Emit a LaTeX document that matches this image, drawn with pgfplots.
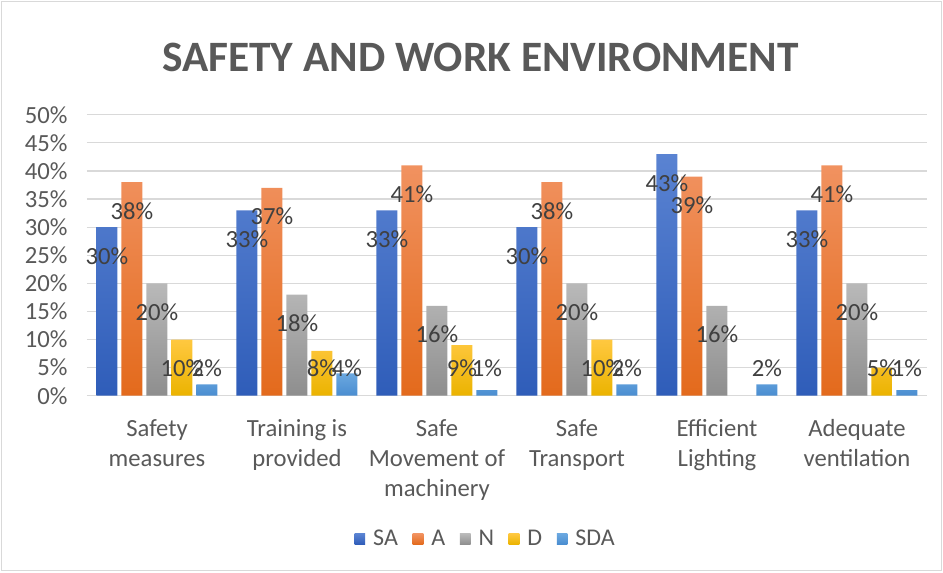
\documentclass[border=0pt]{standalone}
\usepackage{pgfplots}
\pgfplotsset{compat=1.18}
\usepackage{fontspec}
\setmainfont{Carlito}
\definecolor{txt}{HTML}{595959}
\definecolor{lbl}{HTML}{404040}
\definecolor{gridc}{HTML}{D9D9D9}
\definecolor{saT}{HTML}{5A83D2}\definecolor{saB}{HTML}{2F5DB9}
\definecolor{aT}{HTML}{F19260}\definecolor{aB}{HTML}{E36A1C}
\definecolor{nT}{HTML}{B9B9B9}\definecolor{nB}{HTML}{8E8E8E}
\definecolor{dT}{HTML}{FFC840}\definecolor{dB}{HTML}{EBB300}
\definecolor{sdaT}{HTML}{6BA8E0}\definecolor{sdaB}{HTML}{4A8DD0}
\begin{document}
\begin{tikzpicture}[x=1pt,y=1pt]
\useasboundingbox (0,0) rectangle (707.25,429);
\draw[gridc, line width=0.75pt] (1,1) rectangle (706.25,428);
\node[font=\fontsize{32.5}{38}\selectfont\bfseries, text=txt] at (360.4,386.2) {SAFETY AND WORK ENVIRONMENT};
\begin{axis}[
  at={(65.25pt,132.2pt)}, anchor=south west,
  scale only axis, width=630pt, height=210.75pt,
  ybar=3pt, bar width=15.75pt,
  xmin=-0.5, xmax=5.5, ymin=0, ymax=50,
  xtick={0,...,5},
  xticklabels={Safety\\measures, Training is\\provided, Safe\\Movement of\\machinery, Safe\\Transport, Efficient\\Lighting, Adequate\\ventilation},
  ytick={0,5,...,50},
  yticklabel={\pgfmathprintnumber{\tick}\%},
  /pgf/number format/assume math mode=true,
  ticklabel style={font=\fontsize{18.5}{22.5}\selectfont, text=txt},
  xticklabel style={align=center, yshift=-14pt},
  yticklabel style={xshift=-11pt},
  major tick length=0pt,
  ymajorgrids, grid style={gridc, line width=0.9pt},
  axis x line*=bottom, axis y line*=left,
  x axis line style={gridc, line width=0.9pt, -},
  y axis line style={draw=none},
  legend columns=5,
  legend style={draw=none, at={(0.475,-0.51)}, anchor=center, font=\fontsize{18}{20}\selectfont, text=txt, column sep=4pt, /tikz/every even column/.append style={column sep=9pt}},
  legend image code/.code={\path[#1, draw=none] (0pt,-4pt) rectangle (8pt,4pt);},
  visualization depends on={rawy \as \rawy},
  nodes near coords={\pgfmathprintnumber{\pgfplotspointmeta}\%},
  nodes near coords style={anchor=center, font=\fontsize{18.5}{20}\selectfont, text=lbl, yshift={(max(\rawy-5.1,4.9)-\rawy)*4.215pt}},
]
\addplot[draw=none, top color=saT, bottom color=saB] coordinates {(0,30) (1,33) (2,33) (3,30) (4,43) (5,33)};
\addplot[draw=none, top color=aT, bottom color=aB] coordinates {(0,38) (1,37) (2,41) (3,38) (4,39) (5,41)};
\addplot[draw=none, top color=nT, bottom color=nB] coordinates {(0,20) (1,18) (2,16) (3,20) (4,16) (5,20)};
\addplot[draw=none, top color=dT, bottom color=dB] coordinates {(0,10) (1,8) (2,9) (3,10) (5,5)};
\addplot[draw=none, top color=sdaT, bottom color=sdaB] coordinates {(0,2) (1,4) (2,1) (3,2) (4,2) (5,1)};
\legend{SA, A, N, D, SDA}
\end{axis}
\end{tikzpicture}
\end{document}
